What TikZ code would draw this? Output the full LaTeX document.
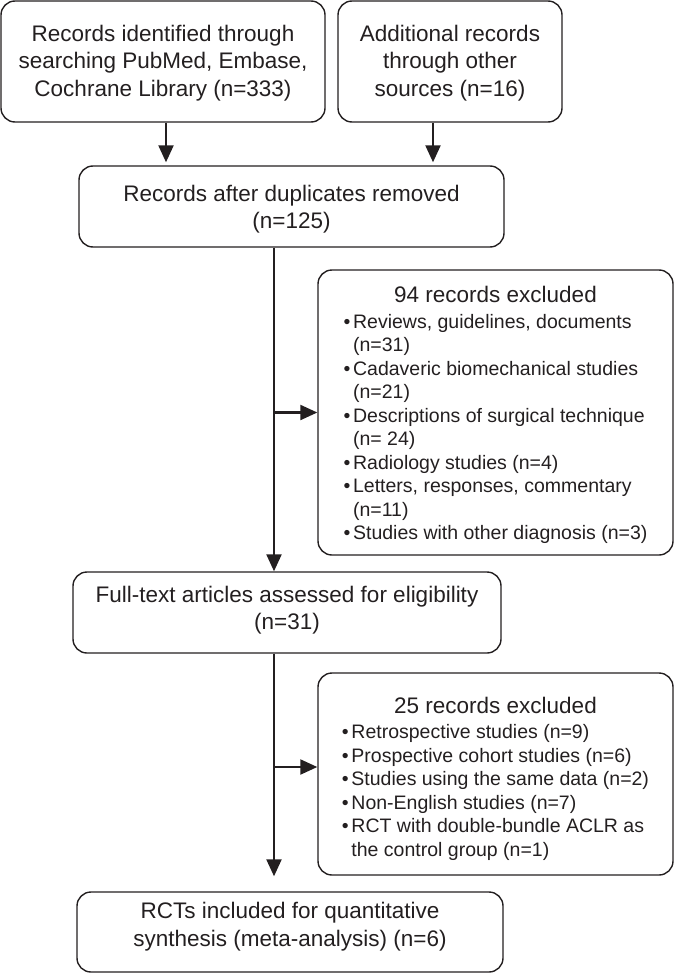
\documentclass[tikz,border=0pt]{standalone}
\usepackage{fontspec}
\setmainfont{Liberation Sans}
\usetikzlibrary{arrows.meta}
\definecolor{ink}{HTML}{231F20}
\newcommand{\mvc}[2]{\raisebox{#1}[\height][\depth]{\begin{tabular}{@{}c@{}}#2\end{tabular}}}
\newcommand{\mvl}[2]{\raisebox{#1}[\height][\depth]{\begin{tabular}{@{}l@{}}#2\end{tabular}}}
\newcommand{\bl}{\makebox[9.5pt][l]{•}}
\newcommand{\ind}{\hspace*{9.5pt}}
\begin{document}
\begin{tikzpicture}[x=1pt,y=-1pt,
  box/.style={draw=ink, line width=1.4pt, rounded corners=14pt, align=center, inner sep=0pt, text=ink, font=\fontsize{22.5}{27.5}\selectfont},
  exbox/.style={draw=ink, line width=1.4pt, rounded corners=14pt, inner sep=0pt, text=ink, font=\fontsize{19.5}{23.5}\selectfont},
  arr/.style={draw=ink, line width=2.2pt, -{Triangle[length=17pt,width=15pt]}}]
\useasboundingbox (0,0) rectangle (675,974);
\node[box, minimum width=324pt, minimum height=121pt] (b1) at (163,61.5) {\mvc{-2pt}{Records identified through\\searching PubMed, Embase,\\Cochrane Library (n=333)}};
\node[box, minimum width=224pt, minimum height=121pt] (b2) at (450,61.5) {\mvc{-2pt}{Additional records\\through other\\sources (n=16)}};
\node[box, minimum width=425pt, minimum height=81pt] (b3) at (291.5,206.5) {\mvc{-3pt}{Records after duplicates removed\\(n=125)}};
\node[exbox, minimum width=355pt, minimum height=285pt] (e1) at (495.5,412.5) {\mvl{-4pt}{\multicolumn{1}{@{}c@{}}{\fontsize{22.5}{25}\selectfont 94 records excluded}\\[2pt]
\bl Reviews, guidelines, documents\\
\ind(n=31)\\
\bl Cadaveric biomechanical studies\\
\ind(n=21)\\
\bl Descriptions of surgical technique\\
\ind(n= 24)\\
\bl Radiology studies (n=4)\\
\bl Letters, responses, commentary\\
\ind(n=11)\\
\bl Studies with other diagnosis (n=3)}};
\node[box, minimum width=428pt, minimum height=81pt] (b5) at (287,612.5) {\mvc{2pt}{Full-text articles assessed for eligibility\\(n=31)}};
\node[exbox, minimum width=355pt, minimum height=202pt] (e2) at (495.5,774) {\mvl{-6pt}{\multicolumn{1}{@{}c@{}}{\fontsize{22.5}{25}\selectfont 25 records excluded}\\[2pt]
\bl Retrospective studies (n=9)\\
\bl Prospective cohort studies (n=6)\\
\bl Studies using the same data (n=2)\\
\bl Non-English studies (n=7)\\
\bl RCT with double-bundle ACLR as\\
\ind the control group (n=1)}};
\node[box, minimum width=426pt, minimum height=80pt] (b7) at (290,932) {\mvc{5pt}{RCTs included for quantitative\\synthesis (meta-analysis) (n=6)}};
\coordinate (a1) at (166,0);
\coordinate (a2) at (433,0);
\coordinate (sx) at (274,0);
\coordinate (y2) at (0,767);
\draw[arr, shorten >=3pt] (b1.south -| a1) -- (b3.north -| a1);
\draw[arr, shorten >=3pt] (b2.south -| a2) -- (b3.north -| a2);
\draw[arr] (b3.south -| sx) -- (b5.north -| sx);
\draw[arr] (e1.west -| sx) -- (e1.west);
\draw[arr, shorten >=15pt] (b5.south -| sx) -- (b7.north -| sx);
\draw[arr] (y2 -| sx) -- (y2 -| e2.west);
\end{tikzpicture}
\end{document}
